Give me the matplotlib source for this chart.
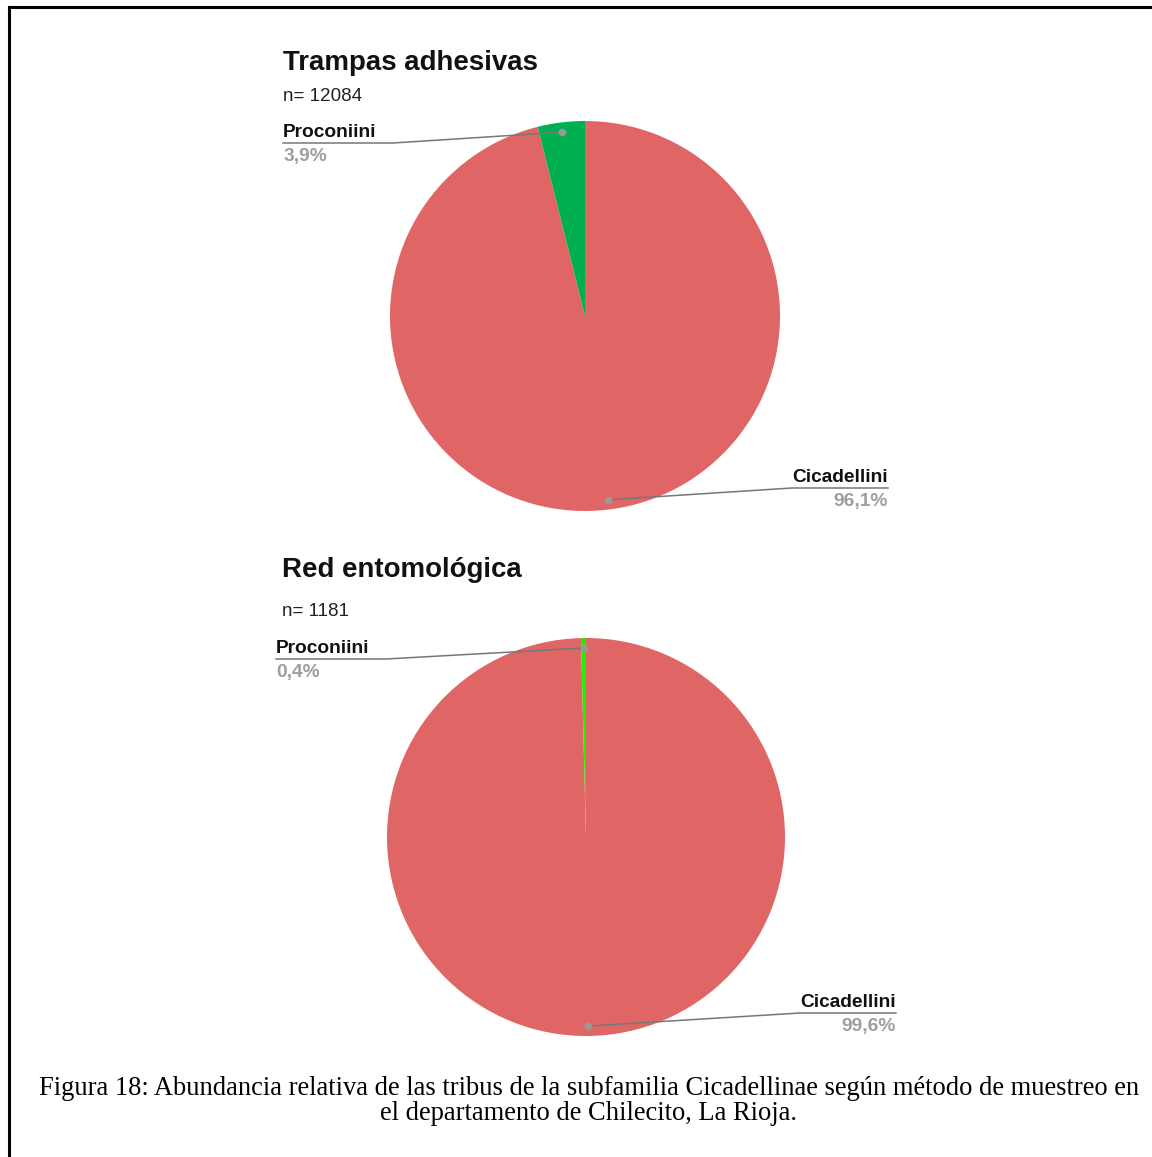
import numpy as np
import matplotlib
matplotlib.use("Agg")
import matplotlib.pyplot as plt
from matplotlib.lines import Line2D

# Data
tribes = ["Cicadellini", "Proconiini"]
trampas_pct = [96.1, 3.9]
red_pct = [99.6, 0.4]
titles = ["Trampas adhesivas", "Red entomológica"]
sample_sizes = [12084, 1181]
caption = ("Figura 18: Abundancia relativa de las tribus de la subfamilia Cicadellinae según método de muestreo en\n"
           "el departamento de Chilecito, La Rioja.")

W, H = 1152, 1157
fig = plt.figure(figsize=(W / 100, H / 100), dpi=100)
fig.patch.set_facecolor("white")


def fx(x):
    return x / W


def fy(y):
    return 1 - y / H


SANS = "Liberation Sans"
RED = "#e06666"
greens = ["#00b050", "#22ee00"]
GRAY = "#9e9e9e"
LINE = "#777777"

# page frame
fig.add_artist(Line2D([fx(8.5), fx(W + 2)], [fy(6.5), fy(6.5)], color="black", lw=2.2, transform=fig.transFigure))
fig.add_artist(Line2D([fx(8.5), fx(8.5)], [fy(6.5), fy(H + 2)], color="black", lw=2.2, transform=fig.transFigure))

panels = [
    dict(vals=trampas_pct, title=titles[0], n=sample_sizes[0], green=greens[0],
         cx=585, cy=316, r=195, tx=283, ty=70, ny=101,
         left_lbl=(283, 137), right_lbl=(888, 482)),
    dict(vals=red_pct, title=titles[1], n=sample_sizes[1], green=greens[1],
         cx=586, cy=837, r=199, tx=282, ty=577, ny=616,
         left_lbl=(276, 653), right_lbl=(896, 1007)),
]

for p in panels:
    cx, cy, r = p["cx"], p["cy"], p["r"]
    ax = fig.add_axes([fx(cx - r), fy(cy + r), 2 * r / W, 2 * r / H])
    wedges, _ = ax.pie(p["vals"], colors=[RED, p["green"]], startangle=90,
                       counterclock=False, radius=1.0,
                       wedgeprops=dict(linewidth=0))
    ax.set_xlim(-1, 1)
    ax.set_ylim(-1, 1)
    ax.set_aspect("auto")
    ax.axis("off")

    fig.text(fx(p["tx"]), fy(p["ty"]), p["title"], family=SANS, weight="bold",
             fontsize=19.9, color="#111111", va="baseline", ha="left")
    fig.text(fx(p["tx"]), fy(p["ny"]), f"n= {p['n']}", family=SANS,
             fontsize=13.6, color="#222222", va="baseline", ha="left")

    for w, name, val in zip(wedges, tribes, p["vals"]):
        mid = np.deg2rad((w.theta1 + w.theta2) / 2)
        # anchor point inside the wedge, in pixel coords
        dxp = cx + 0.95 * r * np.cos(mid)
        dyp = cy - 0.95 * r * np.sin(mid)
        pct = f"{val:.1f}".replace(".", ",") + "%"
        if name == "Proconiini":
            lx, ly = p["left_lbl"]
            fig.text(fx(lx), fy(ly), name, family=SANS, weight="bold",
                     fontsize=13.8, color="#111111", ha="left", va="baseline")
            fig.text(fx(lx), fy(ly + 24), pct, family=SANS, weight="bold",
                     fontsize=13.8, color=GRAY, ha="left", va="baseline")
            uy = ly + 6
            ex = lx + 110
            fig.add_artist(Line2D([fx(lx), fx(ex), fx(dxp)], [fy(uy), fy(uy), fy(dyp)],
                                  color=LINE, lw=1.1, transform=fig.transFigure))
        else:
            rx, ry = p["right_lbl"]
            fig.text(fx(rx), fy(ry), name, family=SANS, weight="bold",
                     fontsize=13.8, color="#111111", ha="right", va="baseline")
            fig.text(fx(rx), fy(ry + 24), pct, family=SANS, weight="bold",
                     fontsize=13.8, color=GRAY, ha="right", va="baseline")
            uy = ry + 6
            ex = rx - 96
            fig.add_artist(Line2D([fx(rx), fx(ex), fx(dxp)], [fy(uy), fy(uy), fy(dyp)],
                                  color=LINE, lw=1.1, transform=fig.transFigure))
        fig.add_artist(Line2D([fx(dxp)], [fy(dyp)], marker="o", ms=4.5, color="#999999",
                              lw=0, transform=fig.transFigure))

fig.text(fx(589), fy(1101), caption, family="Liberation Serif", fontsize=19.1,
         color="black", ha="center", va="center", linespacing=0.98)

fig.savefig("out.png", dpi=100, facecolor="white")
